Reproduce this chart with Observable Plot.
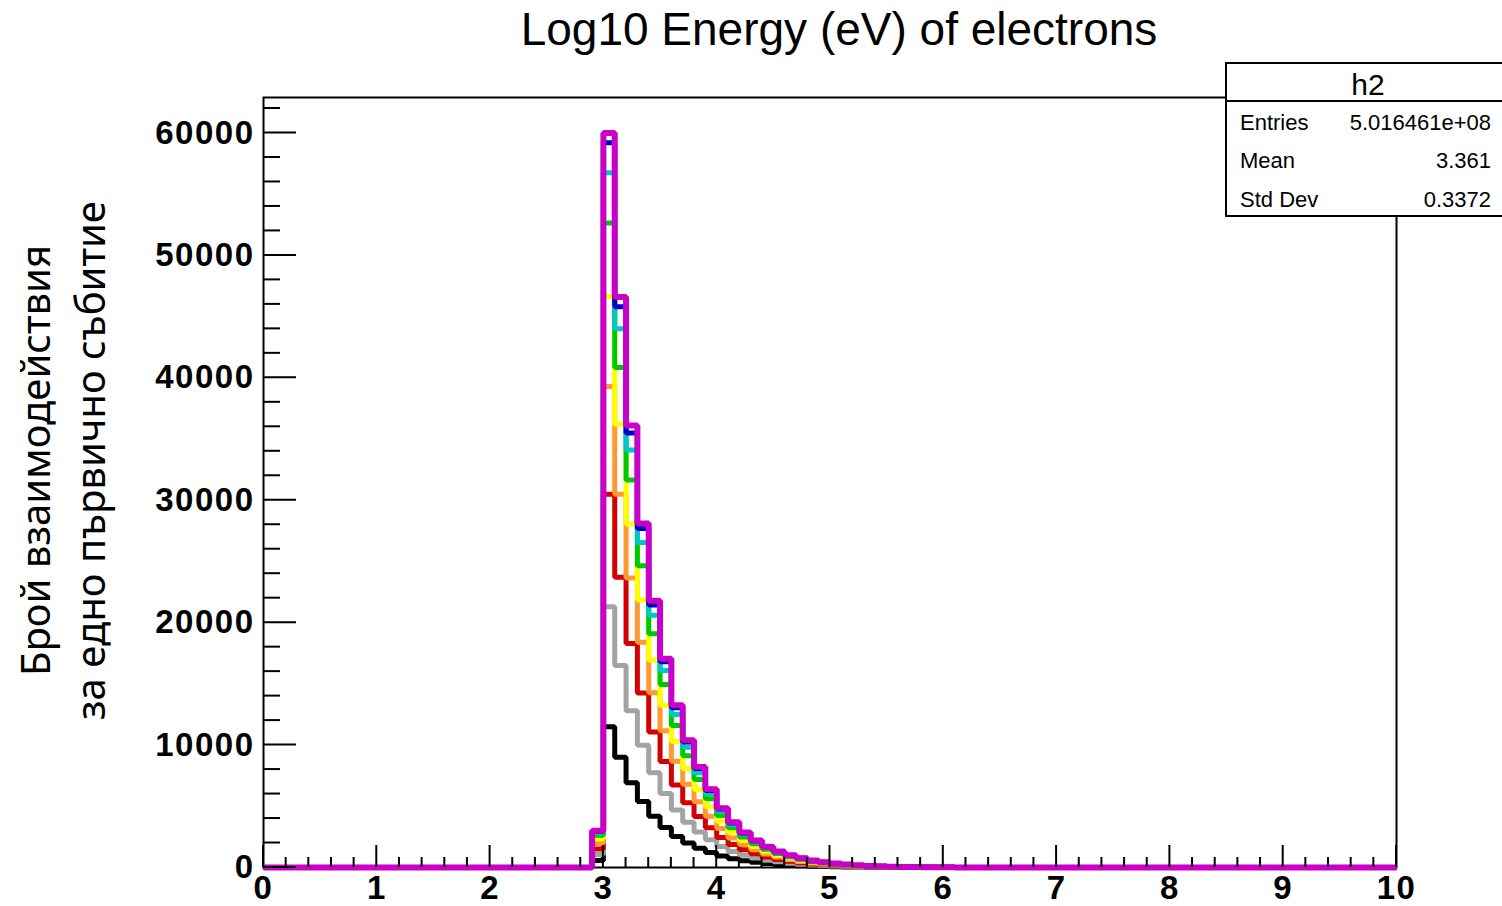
<!DOCTYPE html>
<html>
<head>
<meta charset="utf-8">
<script src="https://cdn.jsdelivr.net/npm/d3@7"></script>
<script src="https://cdn.jsdelivr.net/npm/@observablehq/plot@0.6"></script>
<style>
  html, body { margin: 0; padding: 0; background: #fff; }
  #chart { position: absolute; left: 0; top: 0; }
</style>
</head>
<body>
<div id="chart"></div>
<script>
// ---------- text ----------
const title = "Log10 Energy (eV) of electrons";
const yLabel1 = "Брой взаимодействия";
const yLabel2 = "за едно първично събитие";
const statsName = "h2";
const statsLabels = ["Entries", "Mean", "Std Dev"];
const statsValues = ["5.016461e+08", "3.361", "0.3372"];

// ---------- binning ----------
const binWidth = 0.1;
const xMin = 0, xMax = 10;
const firstBin = 2.9;           // first non-empty bin (low edge)

// ---------- ticks ----------
const xTicks = [0, 1, 2, 3, 4, 5, 6, 7, 8, 9, 10];
const yTicks = [0, 10000, 20000, 30000, 40000, 50000, 60000];
const yMax = 62900;

// ---------- series (bin contents from 2.9 upward, bin width 0.1) ----------
const seriesNames = ["black", "gray", "red", "orange", "yellow", "green", "cyan", "blue", "magenta"];
const seriesColors = ["#000000", "#a3a3a3", "#d20000", "#ff9933", "#ffff00", "#00c800", "#00c8c8", "#0000c8", "#c800c8"];

const blackValues   = [580, 11500, 9000, 6930, 5400, 4190, 3270, 2540, 2000, 1570, 1230, 930, 710, 550, 420, 325, 250, 192, 146, 109, 83, 61, 46, 34, 25, 18, 13, 10, 7, 5, 3, 2, 2, 1, 1, 0, 0, 0];
const grayValues    = [1060, 21300, 16500, 12800, 9980, 7740, 6050, 4700, 3690, 2910, 2270, 1720, 1310, 1010, 780, 600, 460, 355, 270, 202, 153, 114, 85, 62, 46, 34, 25, 18, 13, 9, 6, 5, 3, 2, 1, 1, 1, 0];
const redValues     = [1520, 30500, 23700, 18300, 14250, 11070, 8660, 6730, 5280, 4170, 3250, 2460, 1880, 1450, 1120, 860, 660, 508, 386, 290, 218, 163, 122, 89, 66, 48, 36, 25, 18, 13, 9, 7, 5, 3, 2, 2, 1, 1];
const orangeValues  = [1970, 39300, 30500, 23650, 18400, 14280, 11170, 8680, 6810, 5370, 4190, 3180, 2420, 1870, 1440, 1110, 850, 655, 500, 373, 282, 210, 157, 115, 85, 62, 46, 33, 24, 17, 12, 9, 6, 4, 3, 2, 1, 1];
const yellowValues  = [2330, 46650, 36200, 28050, 21850, 16950, 13250, 10300, 8080, 6370, 4970, 3770, 2875, 2215, 1710, 1320, 1010, 777, 590, 443, 334, 249, 186, 136, 101, 74, 54, 39, 28, 20, 14, 10, 7, 5, 3, 2, 1, 1];
const greenValues   = [2630, 52650, 40850, 31650, 24650, 19100, 14950, 11600, 9120, 7190, 5610, 4250, 3240, 2500, 1930, 1490, 1140, 877, 665, 500, 377, 280, 210, 153, 114, 83, 61, 44, 32, 23, 16, 11, 8, 5, 3, 2, 1, 1];
const cyanValues    = [2830, 56750, 44000, 34100, 26550, 20600, 16100, 12500, 9830, 7750, 6050, 4580, 3500, 2690, 2080, 1610, 1230, 945, 720, 540, 405, 300, 225, 165, 123, 90, 66, 47, 34, 24, 17, 12, 8, 6, 4, 3, 2, 1];
const blueValues    = [2950, 59200, 45800, 35500, 27700, 21450, 16800, 13050, 10250, 8080, 6300, 4780, 3640, 2800, 2170, 1670, 1280, 985, 750, 560, 425, 315, 235, 172, 128, 94, 69, 49, 35, 25, 18, 13, 9, 6, 4, 3, 2, 1];
const magentaValues = [3000, 60000, 46600, 36100, 28100, 21800, 17050, 13250, 10400, 8200, 6400, 4850, 3700, 2850, 2200, 1700, 1300, 1000, 760, 570, 430, 320, 240, 175, 130, 95, 70, 50, 36, 26, 18, 13, 9, 6, 4, 3, 2, 1];

const seriesValues = [blackValues, grayValues, redValues, orangeValues, yellowValues, greenValues, cyanValues, blueValues, magentaValues];

// ---------- build step tables ----------
const nBins = Math.round((xMax - xMin) / binWidth);
const startIndex = Math.round((firstBin - xMin) / binWidth);
function stepRows(name, vals) {
  const rows = [];
  for (let i = 0; i < nBins; i++) {
    const k = i - startIndex;
    rows.push({series: name, x: +(xMin + i * binWidth).toFixed(2), y: (k >= 0 && k < vals.length) ? vals[k] : 0});
  }
  rows.push({series: name, x: xMax, y: rows[rows.length - 1].y});
  return rows;
}

const fontMain = "'Liberation Sans', Arial, Helvetica, sans-serif";

const lineMarks = seriesNames.map((name, k) =>
  Plot.line(stepRows(name, seriesValues[k]), {
    x: "x", y: "y", curve: "step-after",
    stroke: seriesColors[k],
    strokeWidth: name === "magenta" ? 6 : 5,
    strokeLinejoin: "miter", strokeLinecap: "butt"
  })
);

const plot = Plot.plot({
  width: 1502,
  height: 906,
  marginLeft: 263,
  marginRight: 106,
  marginTop: 97,
  marginBottom: 39,
  style: {fontFamily: fontMain, color: "#000", background: "#fff", overflow: "visible"},
  x: {domain: [xMin, xMax], label: null},
  y: {domain: [0, yMax], label: null},
  marks: [
    Plot.frame({stroke: "#000", strokeWidth: 2}),
    ...lineMarks,
    Plot.axisX({ticks: xTicks, tickSize: 0, tickPadding: 8, fontSize: 33, fontWeight: "bold", label: null, tickFormat: d => String(d)}),
    Plot.axisY({ticks: yTicks, tickSize: 0, tickPadding: 9, fontSize: 33, fontWeight: "bold", label: null, tickFormat: d => String(d)}),
    Plot.text([title], {text: d => d, frameAnchor: "top", dx: 9, dy: -67, fontSize: 46, fontFamily: fontMain, lineAnchor: "middle"}),
    Plot.text([yLabel1], {text: d => d, frameAnchor: "left", textAnchor: "middle", rotate: -90, dx: -226, dy: -22, fontSize: 40, fontFamily: "'Noto Sans', sans-serif", lineAnchor: "middle"}),
    Plot.text([yLabel2], {text: d => d, frameAnchor: "left", textAnchor: "middle", rotate: -90, dx: -171, dy: -22, fontSize: 40, fontFamily: "'Noto Sans', sans-serif", lineAnchor: "middle"})
  ]
});

// ---------- inward ROOT-style ticks via the plot's own scales ----------
const sx = plot.scale("x"), sy = plot.scale("y");
const svg = d3.select(plot);
svg.selectAll("g[aria-label='x-axis tick label'] text, g[aria-label='y-axis tick label'] text").attr("letter-spacing", "1.5px");
const gt = svg.append("g").attr("stroke", "#000").attr("stroke-width", 2);
const x0px = sx.apply(xMin), y0px = sy.apply(0);
const xMinor = d3.range(0, 51).map(i => +(i * 0.2).toFixed(1)).filter(v => !xTicks.includes(v));
const yMinor = d3.range(0, 32).map(i => i * 2000).filter(v => !yTicks.includes(v));
xTicks.forEach(v => gt.append("line").attr("x1", sx.apply(v)).attr("x2", sx.apply(v)).attr("y1", y0px).attr("y2", y0px - 22));
xMinor.forEach(v => gt.append("line").attr("x1", sx.apply(v)).attr("x2", sx.apply(v)).attr("y1", y0px).attr("y2", y0px - 10));
yTicks.forEach(v => gt.append("line").attr("x1", x0px).attr("x2", x0px + 33).attr("y1", sy.apply(v)).attr("y2", sy.apply(v)));
yMinor.forEach(v => gt.append("line").attr("x1", x0px).attr("x2", x0px + 17).attr("y1", sy.apply(v)).attr("y2", sy.apply(v)));

// ---------- stats box ----------
const gs = svg.append("g").attr("font-family", fontMain).attr("text-anchor", "start");
gs.append("rect").attr("x", 1226).attr("y", 63).attr("width", 300).attr("height", 153)
  .attr("fill", "#fff").attr("stroke", "#000").attr("stroke-width", 2);
gs.append("line").attr("x1", 1226).attr("x2", 1526).attr("y1", 101).attr("y2", 101).attr("stroke", "#000").attr("stroke-width", 2);
gs.append("text").attr("x", 1368).attr("y", 95).attr("text-anchor", "middle").attr("font-size", 30).text(statsName);
const rowY = [130, 168, 207];
statsLabels.forEach((t, i) => gs.append("text").attr("x", 1240).attr("y", rowY[i]).attr("text-anchor", "start").attr("font-size", 22).text(t));
statsValues.forEach((t, i) => gs.append("text").attr("x", 1491).attr("y", rowY[i]).attr("text-anchor", "end").attr("font-size", 22).text(t));

document.getElementById("chart").appendChild(plot);
</script>
</body>
</html>
